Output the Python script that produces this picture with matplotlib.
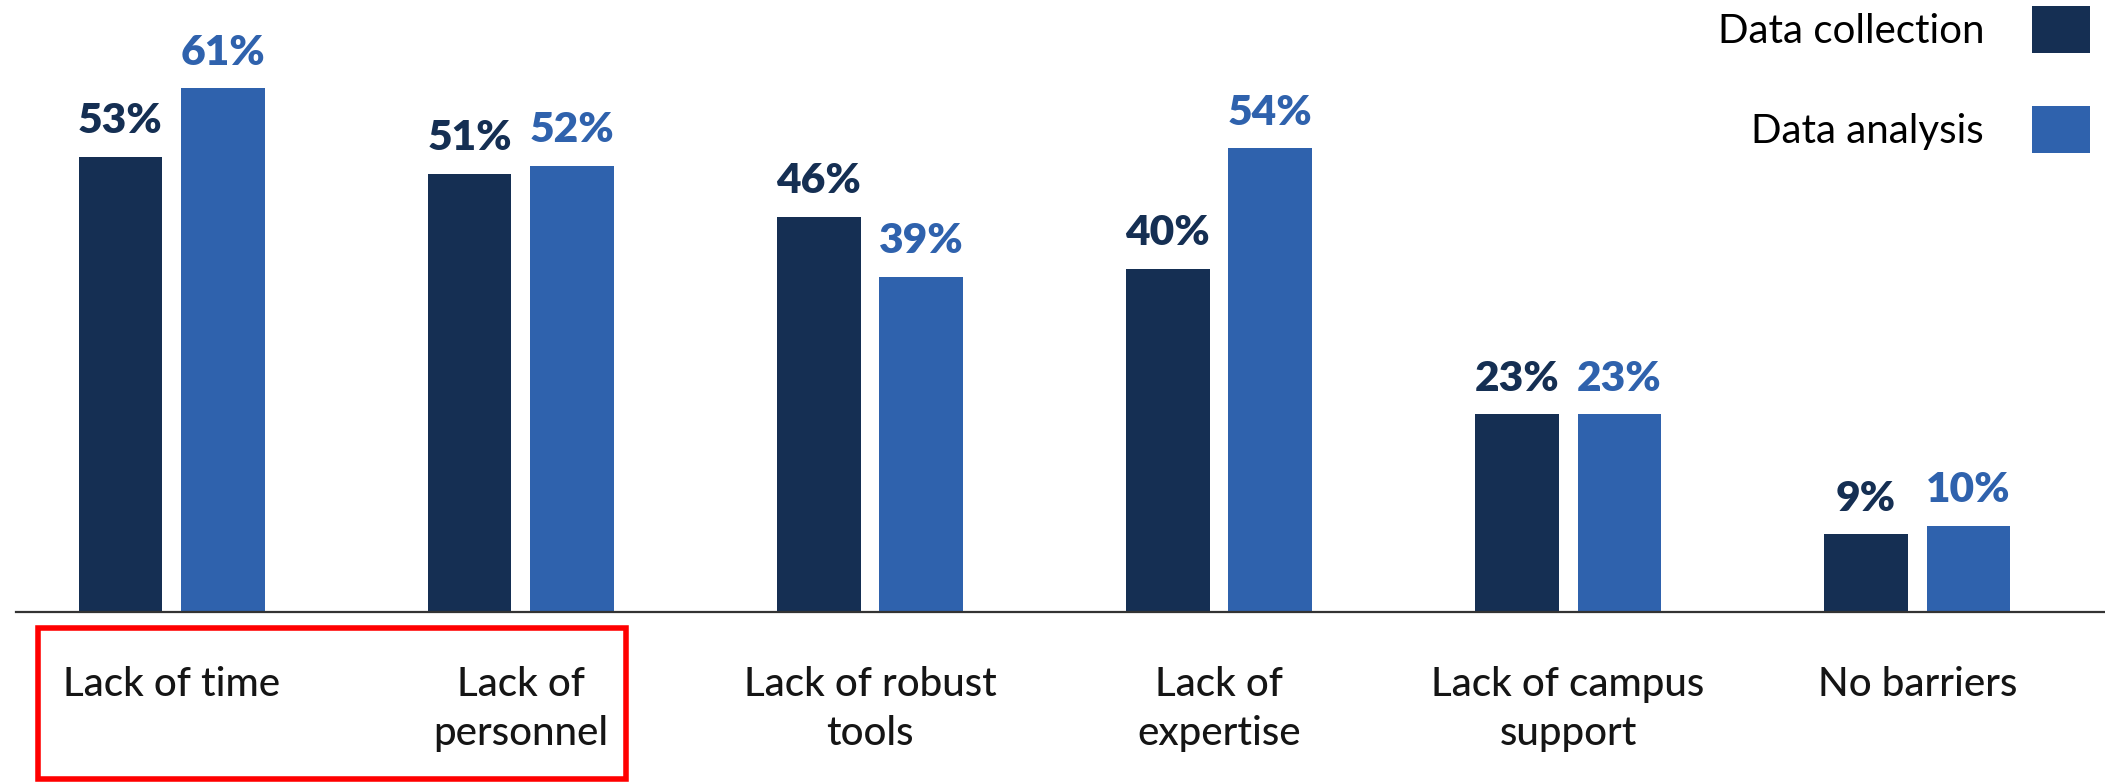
import matplotlib.pyplot as plt
from matplotlib.patches import Patch, Rectangle
import numpy as np

plt.rcParams['font.family'] = ['Lato', 'DejaVu Sans']

categories = ['Lack of time', 'Lack of\npersonnel', 'Lack of robust\ntools',
              'Lack of\nexpertise', 'Lack of campus\nsupport', 'No barriers']
collection = [53, 51, 46, 40, 23, 9]
analysis = [61, 52, 39, 54, 23, 10]
series_names = ['Data collection', 'Data analysis']

DARK = '#152f53'
LIGHT = '#2f62ad'

fig = plt.figure(figsize=(21.05, 7.82), dpi=100)
# axes box matched to the baseline/left edge of the reference
ax = fig.add_axes([12 / 1568, (583 - 456) / 583, 1 - 12 / 1568, 456 / 583])

x = np.arange(len(categories))
w = 0.24
off = 0.147
b1 = ax.bar(x - off, collection, w, color=DARK)
b2 = ax.bar(x + off, analysis, w, color=LIGHT)

# value labels above each bar, same colour as the bar
for bars, vals, col in [(b1, collection, DARK), (b2, analysis, LIGHT)]:
    for rect, v in zip(bars, vals):
        ax.annotate('%d%%' % v, (rect.get_x() + rect.get_width() / 2, rect.get_height()),
                    xytext=(0, 12), textcoords='offset points', ha='center', va='bottom',
                    fontsize=30.5, fontweight='heavy', color=col)

ax.set_xlim(-0.446, 5.538)
ax.set_ylim(0, 71.3)

ax.set_xticks(x)
ax.set_xticklabels(categories, fontsize=29, color='#151515', fontweight='medium')
for t in ax.get_xticklabels():
    t.set_linespacing(1.4)
ax.tick_params(axis='x', length=0, pad=39)
ax.set_yticks([])

for s in ['top', 'left', 'right']:
    ax.spines[s].set_visible(False)
ax.spines['bottom'].set_color('#333333')
ax.spines['bottom'].set_linewidth(1.6)

# legend: label on the left, square on the right
handles = [Patch(facecolor=DARK), Patch(facecolor=LIGHT)]
fig.legend(handles, series_names, loc='upper right', bbox_to_anchor=(1561 / 1568, 1.0),
           frameon=False, markerfirst=False, fontsize=29, handlelength=1.42,
           handleheight=1.42, handletextpad=1.2, labelspacing=1.32,
           borderaxespad=0, borderpad=0.15)

# red highlight box around the first two category labels
fig.patches.append(Rectangle((28 / 1568, (583 - 581) / 583), 438 / 1568, 113 / 583,
                             transform=fig.transFigure, fill=False,
                             edgecolor='#ff0000', linewidth=4))

fig.savefig('out.png', dpi=100)
